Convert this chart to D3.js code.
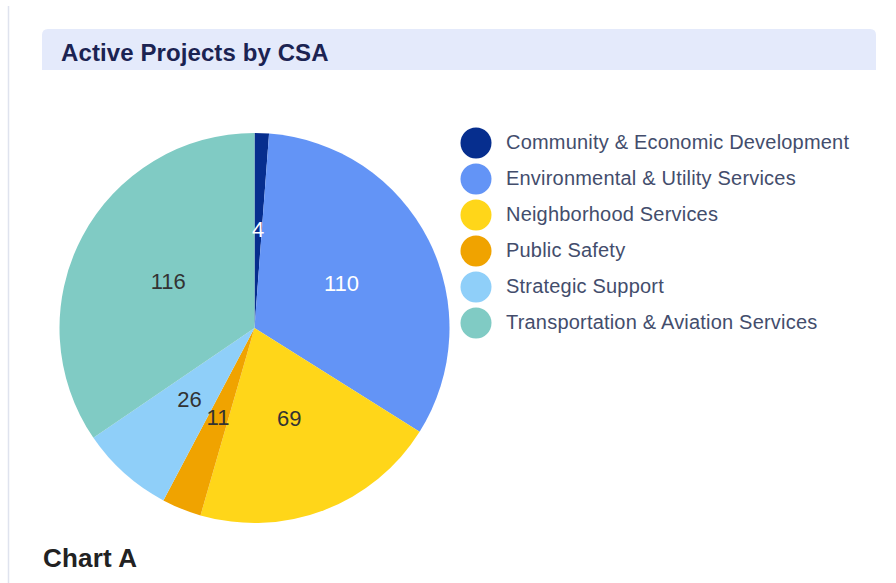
<!DOCTYPE html>
<html>
<head>
<meta charset="utf-8">
<script src="https://cdn.jsdelivr.net/npm/d3@7"></script>
<style>
  body { margin: 0; background: #fff; }
  svg { display: block; font-family: "Liberation Sans", Arial, sans-serif; }
</style>
</head>
<body>
<div id="chart-area"></div>
<script>
// Active projects per CSA
var categories = ["Community & Economic Development", "Environmental & Utility Services",
                  "Neighborhood Services", "Public Safety", "Strategic Support",
                  "Transportation & Aviation Services"];
var values = [4, 110, 69, 11, 26, 116];
var colors = ["#062e8e", "#6394f6", "#ffd619", "#f0a300", "#8fcff9", "#80cbc4"];
var labelColors = ["#ffffff", "#ffffff", "#333333", "#333333", "#333333", "#333333"];

var width = 896, height = 583;
var cx = 254.5, cy = 328, radius = 195;

var svg = d3.select("#chart-area").append("svg")
    .attr("width", width)
    .attr("height", height);

// thin rule at the left edge of the card
svg.append("line")
    .attr("x1", 8.5).attr("x2", 8.5)
    .attr("y1", 6).attr("y2", height)
    .attr("stroke", "#dfe3ee")
    .attr("stroke-width", 1.5);

// header bar with rounded top corners
svg.append("path")
    .attr("d", "M42,70 L42,35 Q42,29 48,29 L870,29 Q876,29 876,35 L876,70 Z")
    .attr("fill", "#e4eafb");

svg.append("text")
    .attr("x", 61).attr("y", 61)
    .attr("font-size", 24)
    .attr("font-weight", "bold")
    .attr("letter-spacing", 0.1)
    .attr("fill", "#1b2352")
    .text("Active Projects by CSA");

var pie = d3.pie().sort(null).value(function (d) { return d; });
var arc = d3.arc().innerRadius(0).outerRadius(radius);
var arcs = pie(values);

var g = svg.append("g").attr("transform", "translate(" + cx + "," + cy + ")");

g.selectAll("path")
    .data(arcs)
    .enter()
    .append("path")
    .attr("d", arc)
    .attr("fill", function (d, i) { return colors[i]; });

g.selectAll("text")
    .data(arcs)
    .enter()
    .append("text")
    .attr("transform", function (d) { return "translate(" + arc.centroid(d) + ")"; })
    .attr("text-anchor", "middle")
    .attr("dy", "0.3em")
    .attr("font-size", 22)
    .attr("fill", function (d, i) { return labelColors[i]; })
    .text(function (d) { return d.data; });

// legend
var legend = svg.append("g").attr("transform", "translate(476,143)");
var rows = legend.selectAll("g")
    .data(categories)
    .enter()
    .append("g")
    .attr("transform", function (d, i) { return "translate(0," + i * 36 + ")"; });

rows.append("circle")
    .attr("r", 15.5)
    .attr("fill", function (d, i) { return colors[i]; });

rows.append("text")
    .attr("x", 30)
    .attr("dy", "0.32em")
    .attr("font-size", 20)
    .attr("letter-spacing", 0.2)
    .attr("fill", "#434d6c")
    .text(function (d) { return d; });

svg.append("text")
    .attr("x", 43).attr("y", 567)
    .attr("font-size", 26)
    .attr("font-weight", "bold")
    .attr("letter-spacing", 0.2)
    .attr("fill", "#222222")
    .text("Chart A");
</script>
</body>
</html>
